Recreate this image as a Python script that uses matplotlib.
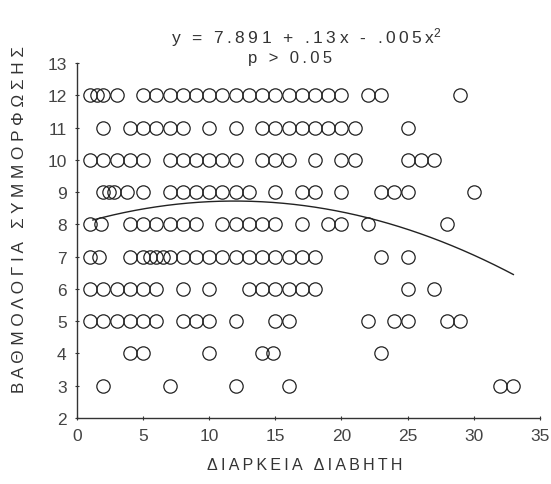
import matplotlib
matplotlib.use("Agg")
import matplotlib.pyplot as plt
import numpy as np

plt.rcParams['font.family'] = ['Liberation Sans', 'DejaVu Sans']
plt.rcParams['mathtext.fontset'] = 'custom'
plt.rcParams['mathtext.rm'] = 'Liberation Sans'
plt.rcParams['mathtext.it'] = 'Liberation Sans'

# Data: diabetes duration (x) for each compliance score row (y)
row12 = [1, 1.5, 2, 3, 5, 6, 7, 8, 9, 10, 11, 12, 13, 14, 15, 16, 17, 18, 19, 20, 22, 23, 29]
row11 = [2, 4, 5, 6, 7, 8, 10, 12, 14, 15, 16, 17, 18, 19, 20, 21, 25]
row10 = [1, 2, 3, 4, 5, 7, 8, 9, 10, 11, 12, 14, 15, 16, 18, 20, 21, 25, 26, 27]
row9 = [2, 2.4, 2.8, 3.8, 5, 7, 8, 9, 10, 11, 12, 13, 15, 17, 18, 20, 23, 24, 25, 30]
row8 = [1, 1.8, 4, 5, 6, 7, 8, 9, 11, 12, 13, 14, 15, 17, 19, 20, 22, 28]
row7 = [1, 1.7, 4, 5, 5.5, 6, 6.5, 7, 8, 9, 10, 11, 12, 13, 14, 15, 16, 17, 18, 23, 25]
row6 = [1, 2, 3, 4, 5, 6, 8, 10, 13, 14, 15, 16, 17, 18, 25, 27]
row5 = [1, 2, 3, 4, 5, 6, 8, 9, 10, 12, 15, 16, 22, 24, 25, 28, 29]
row4 = [4, 5, 10, 14, 14.8, 23]
row3 = [2, 7, 12, 16, 32, 33]

rows = {12: row12, 11: row11, 10: row10, 9: row9, 8: row8,
        7: row7, 6: row6, 5: row5, 4: row4, 3: row3}

# Quadratic fit curve as drawn
fit_a, fit_b, fit_c = 7.995, 0.122, -0.00512
fit_range = (1.2, 33.0)

title_eq = "y = 7.891 + .13x - .005x"
title_sup = "$^{2}$"
title_p = "p > 0.05"
xlabel = "ΔΙΑΡΚΕΙΑ ΔΙΑΒΗΤΗ"
ylabel = "ΒΑΘΜΟΛΟΓΙΑ ΣΥΜΜΟΡΦΩΣΗΣ"
xticks = [0, 5, 10, 15, 20, 25, 30, 35]
yticks = [2, 3, 4, 5, 6, 7, 8, 9, 10, 11, 12, 13]

def spaced(s, sep="\u2009"):
    return sep.join(list(s))

fig = plt.figure(figsize=(5.51, 4.85), dpi=100)
ax = fig.add_axes([0.1397, 0.1361, 0.840, 0.732])

for yv, xs in rows.items():
    ax.plot(xs, [yv] * len(xs), linestyle='none', marker='o', markersize=9.6,
            markerfacecolor='none', markeredgecolor='#222222', markeredgewidth=0.9)

xf = np.linspace(fit_range[0], fit_range[1], 200)
ax.plot(xf, fit_a + fit_b * xf + fit_c * xf ** 2, color='#222222', linewidth=1.0)

ax.set_xlim(0, 35)
ax.set_ylim(2, 13)
ax.set_xticks(xticks)
ax.set_yticks(yticks)
ax.spines['top'].set_visible(False)
ax.spines['right'].set_visible(False)
for s in ('left', 'bottom'):
    ax.spines[s].set_linewidth(1.0)
    ax.spines[s].set_color('#333333')
ax.tick_params(axis='both', labelsize=12.5, colors='#333333', labelcolor='#444444',
               length=3, width=0.8, direction='inout')
ax.tick_params(axis='y', pad=6)
ax.tick_params(axis='x', pad=6)

fig.text(306 / 551, 1 - 38 / 485, spaced(title_eq) + title_sup, ha='center', va='center',
         fontsize=12.5, color='#333333')
fig.text(290 / 551, 1 - 59 / 485, spaced(title_p), ha='center', va='center',
         fontsize=12, color='#333333')
fig.text(305 / 551, 1 - 466 / 485, spaced(xlabel), ha='center', va='center',
         fontsize=11.5, color='#333333')
fig.text(20 / 551, 1 - 220 / 485, spaced(ylabel, " "), ha='center', va='center',
         rotation=90, fontsize=12.3, color='#333333')

fig.savefig("out.png", dpi=100)
